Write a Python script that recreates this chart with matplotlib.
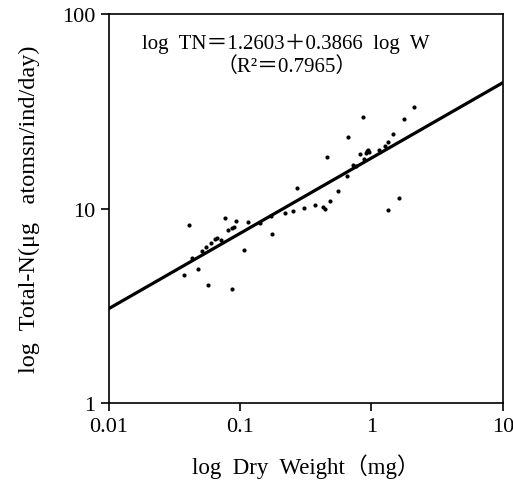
import matplotlib

matplotlib.use("Agg")
import matplotlib.pyplot as plt
import numpy as np

# dry weight (mg) and total N excretion
dry_weight = [
    0.0371, 0.0405, 0.043, 0.0477, 0.0512, 0.0552, 0.0569, 0.0596, 0.0639, 0.067,
    0.0719, 0.0763, 0.0809, 0.0858, 0.0868, 0.0898, 0.0935, 0.106, 0.1155, 0.1426,
    0.176, 0.173, 0.221, 0.253, 0.273, 0.305, 0.368, 0.428, 0.444, 0.460,
    0.482, 0.552, 0.646, 0.665, 0.726, 0.761, 0.817, 0.866, 0.877, 0.918,
    0.962, 0.91, 0.94, 1.15, 1.27, 1.33, 1.34, 1.45, 1.61, 1.77, 2.12,
]
total_n = [
    4.56, 8.24, 5.58, 4.90, 6.04, 6.32, 4.07, 6.64, 6.98, 7.05,
    6.93, 8.91, 7.80, 7.92, 3.87, 8.09, 8.67, 6.16, 8.51, 8.44,
    7.41, 9.14, 9.47, 9.77, 12.8, 10.1, 10.5, 10.2, 10.0, 18.4,
    11.0, 12.3, 14.8, 23.4, 16.8, 16.6, 19.2, 29.5, 18.0, 19.7,
    19.5, 19.3, 19.9, 20.1, 21.1, 22.1, 9.84, 24.2, 11.3, 28.9, 33.2,
]

# fitted line: log TN = a + b log W
intercept = 1.2603
slope = 0.3866
fit_w = np.array([0.01, 10])

serif = ["Liberation Serif", "Noto Sans CJK JP"]

fig = plt.figure(figsize=(5.13, 4.81), dpi=100)
ax = fig.add_axes([0.2125, 0.1594, 0.7675, 0.8094])

ax.plot(dry_weight, total_n, "o", color="black", ms=3.0, mew=0)
ax.plot(fit_w, 10 ** (intercept + slope * np.log10(fit_w)), "-", color="black", lw=2.3)

ax.set_xscale("log")
ax.set_yscale("log")
ax.set_xlim(0.01, 10)
ax.set_ylim(1, 100)
ax.set_xticks([0.01, 0.1, 1, 10])
ax.set_xticklabels(["0.01", "0.1", "1", "10"])
ax.set_yticks([1, 10, 100])
ax.set_yticklabels(["1", "10", "100"])
ax.minorticks_off()
ax.tick_params(direction="out", length=6, width=1.2, labelsize=16, pad=4)
for lab in ax.get_xticklabels() + ax.get_yticklabels():
    lab.set_family(serif)
for sp in ax.spines.values():
    sp.set_linewidth(1.2)

ax.set_xlabel("log  Dry  Weight（mg）", family=serif, fontsize=16.5, labelpad=12)
ax.set_ylabel("log  Total-N(μg   atomsn/ind/day)", family=serif, fontsize=17.5, labelpad=16)

ax.text(0.45, 0.925, "log  TN＝1.2603＋0.3866  log  W", transform=ax.transAxes,
        ha="center", va="center", family=serif, fontsize=15)
ax.text(0.45, 0.865, "（R²＝0.7965）", transform=ax.transAxes,
        ha="center", va="center", family=serif, fontsize=15)

fig.savefig("out.png", dpi=100)
